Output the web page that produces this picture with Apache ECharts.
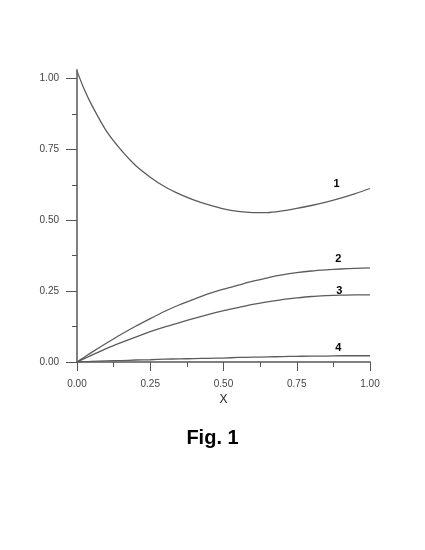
<!DOCTYPE html>
<html>
<head>
<meta charset="utf-8">
<script src="https://cdn.jsdelivr.net/npm/echarts@6/dist/echarts.min.js"></script>
<style>
html,body{margin:0;padding:0;background:#fff;}
#chart{width:425px;height:550px;}
</style>
</head>
<body>
<div id="chart"></div>
<script>
var xValues = [0, 0.025, 0.05, 0.1, 0.15, 0.2, 0.25, 0.3, 0.35, 0.4, 0.45, 0.5, 0.55, 0.6, 0.65, 0.7, 0.75, 0.8, 0.85, 0.9, 0.95, 1.0];
var curve1 = [1.026, 0.961, 0.907, 0.815, 0.748, 0.693, 0.652, 0.618, 0.592, 0.571, 0.554, 0.540, 0.531, 0.527, 0.527, 0.533, 0.542, 0.552, 0.564, 0.578, 0.594, 0.612];
var curve2 = [0, 0.017, 0.034, 0.066, 0.097, 0.126, 0.153, 0.179, 0.202, 0.222, 0.241, 0.257, 0.271, 0.285, 0.297, 0.307, 0.315, 0.321, 0.325, 0.328, 0.330, 0.332];
var curve3 = [0, 0.012, 0.024, 0.047, 0.068, 0.088, 0.107, 0.124, 0.139, 0.154, 0.168, 0.181, 0.192, 0.203, 0.212, 0.220, 0.226, 0.231, 0.234, 0.236, 0.237, 0.237];
var curve4 = [0, 0.001, 0.002, 0.004, 0.005, 0.007, 0.008, 0.010, 0.011, 0.012, 0.013, 0.014, 0.016, 0.017, 0.018, 0.019, 0.020, 0.021, 0.021, 0.022, 0.022, 0.022];
var curveNames = ['1', '2', '3', '4'];
var curveLabelX = [0.886, 0.892, 0.895, 0.892];
var curveLabelY = [0.628, 0.362, 0.251, 0.049];
var majorTicks = [0, 0.25, 0.5, 0.75, 1.0];
var minorTicks = [0.125, 0.375, 0.625, 0.875];
var xAxisTitle = 'X';
var figTitle = 'Fig. 1';

var FONT = '"Liberation Sans", Arial, sans-serif';
var AXIS_GRAY = '#808080';
var LINE_COLOR = '#5c5c5c';

function pairs(xs, ys) {
  var out = [];
  for (var i = 0; i < xs.length; i++) out.push([xs[i], ys[i]]);
  return out;
}

var curves = [curve1, curve2, curve3, curve4];
var series = curves.map(function (c, i) {
  return {
    type: 'line',
    name: curveNames[i],
    xAxisIndex: 0,
    yAxisIndex: 0,
    data: pairs(xValues, c),
    showSymbol: false,
    smooth: 0.25,
    lineStyle: { color: LINE_COLOR, width: 1.3 },
    silent: true,
    markPoint: {
      symbol: 'circle',
      symbolSize: 0,
      silent: true,
      data: [{ coord: [curveLabelX[i], curveLabelY[i]] }],
      label: {
        show: true,
        position: 'inside',
        formatter: curveNames[i],
        color: '#000',
        fontFamily: FONT,
        fontWeight: 'bold',
        fontSize: 11
      }
    }
  };
});

function fmt(v) { return Number(v).toFixed(2); }

var chart = echarts.init(document.getElementById('chart'), null, { renderer: 'canvas' });
chart.setOption({
  animation: false,
  backgroundColor: '#ffffff',
  title: {
    text: figTitle,
    left: 'center',
    top: 423,
    textStyle: { fontFamily: FONT, fontWeight: 'bold', fontSize: 20, color: '#000' }
  },
  grid: { left: 77, right: 55, top: 70, bottom: 188, containLabel: false },
  xAxis: [
    {
      type: 'value', position: 'bottom', min: 0, max: 1, interval: 0.25,
      name: xAxisTitle, nameLocation: 'middle', nameGap: 31,
      nameTextStyle: { fontFamily: FONT, fontSize: 12, color: '#222' },
      axisLine: { show: true, lineStyle: { color: AXIS_GRAY, width: 2 } },
      axisTick: { show: true, customValues: majorTicks, length: 9, lineStyle: { color: '#555', width: 1 } },
      axisLabel: { show: true, customValues: majorTicks, formatter: fmt, margin: 17, fontFamily: FONT, fontSize: 10, color: '#444' },
      splitLine: { show: false }
    },
    {
      type: 'value', position: 'bottom', min: 0, max: 1, interval: 0.25,
      axisLine: { show: false },
      axisTick: { show: true, customValues: minorTicks, length: 5, lineStyle: { color: '#555', width: 1 } },
      axisLabel: { show: false },
      splitLine: { show: false }
    }
  ],
  yAxis: [
    {
      type: 'value', position: 'left', min: 0, max: 1.03, interval: 0.25,
      axisLine: { show: true, lineStyle: { color: AXIS_GRAY, width: 2 } },
      axisTick: { show: true, customValues: majorTicks, length: 11, lineStyle: { color: '#555', width: 1 } },
      axisLabel: { show: true, customValues: majorTicks, formatter: fmt, margin: 18, fontFamily: FONT, fontSize: 10, color: '#444' },
      splitLine: { show: false }
    },
    {
      type: 'value', position: 'left', min: 0, max: 1.03, interval: 0.25,
      axisLine: { show: false },
      axisTick: { show: true, customValues: minorTicks, length: 5, lineStyle: { color: '#555', width: 1 } },
      axisLabel: { show: false },
      splitLine: { show: false }
    }
  ],
  series: series
});
</script>
</body>
</html>
